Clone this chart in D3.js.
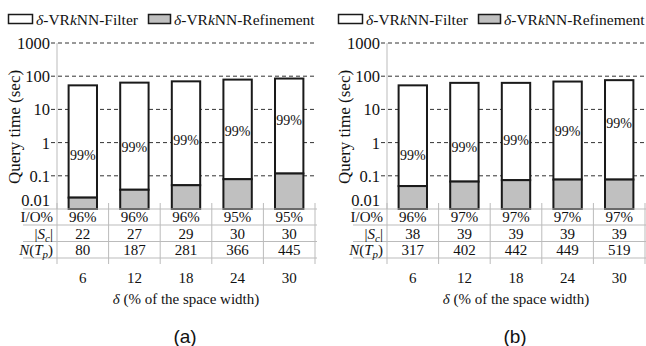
<!DOCTYPE html>
<html>
<head>
<meta charset="utf-8">
<script src="https://cdn.jsdelivr.net/npm/d3@7"></script>
<style>
  body { margin: 0; background: #fff; }
  svg { display: block; }
  text { font-family: "Liberation Serif", "DejaVu Serif", serif; fill: #111; }
</style>
</head>
<body>
<div id="chart"></div>
<script>
// query time breakdown, two datasets
const deltas = ["6", "12", "18", "24", "30"];
const yTicks = [0.01, 0.1, 1, 10, 100, 1000];

// panel (a)
const totalA = [53, 64, 70, 79, 85];
const refineA = [0.022, 0.038, 0.052, 0.079, 0.117];
const pctA = ["99%", "99%", "99%", "99%", "99%"];
const pctAtA = [0.43, 0.72, 1.23, 2.3, 4.9];
const ioA = ["96%", "96%", "96%", "95%", "95%"];
const scA = ["22", "27", "29", "30", "30"];
const ntpA = ["80", "187", "281", "366", "445"];

// panel (b)
const totalB = [53, 63, 63, 69, 76];
const refineB = [0.049, 0.067, 0.074, 0.077, 0.077];
const pctB = ["99%", "99%", "99%", "99%", "99%"];
const pctAtB = [0.43, 0.72, 1.23, 2.3, 3.9];
const ioB = ["96%", "97%", "97%", "97%", "97%"];
const scB = ["38", "39", "39", "39", "39"];
const ntpB = ["317", "402", "442", "449", "519"];

const width = 646, height = 346;
const svg = d3.select("#chart").append("svg")
    .attr("width", width).attr("height", height);

const gray = "#c0c0c0";
const dark = "#1a1a1a";

function drawPanel(offsetX, tag, total, refine, pct, pctAt, io, sc, ntp) {
    let g = svg.append("g").attr("transform", "translate(" + offsetX + ",0)");

    let x = d3.scaleBand().domain(deltas).range([57, 315])
        .paddingInner(0.45).paddingOuter(0.225);
    let y = d3.scaleLog().domain([0.01, 1000]).range([209, 43]);

    // legend
    let leg = g.append("g");
    leg.append("rect").attr("x", 8.5).attr("y", 14.5).attr("width", 24).attr("height", 9)
        .attr("fill", "#fff").attr("stroke", dark).attr("stroke-width", 1.5);
    let t1 = leg.append("text").attr("x", 36).attr("y", 24.5).style("font-size", "15.5px");
    t1.append("tspan").style("font-style", "italic").text("δ");
    t1.append("tspan").text("-VR");
    t1.append("tspan").style("font-style", "italic").text("k");
    t1.append("tspan").text("NN-Filter");
    leg.append("rect").attr("x", 148.5).attr("y", 14.5).attr("width", 22).attr("height", 9)
        .attr("fill", gray).attr("stroke", dark).attr("stroke-width", 1.5);
    let t2 = leg.append("text").attr("x", 174).attr("y", 24.5).style("font-size", "15.5px");
    t2.append("tspan").style("font-style", "italic").text("δ");
    t2.append("tspan").text("-VR");
    t2.append("tspan").style("font-style", "italic").text("k");
    t2.append("tspan").text("NN-Refinement");

    // grid lines
    g.append("g").selectAll("line")
        .data(yTicks.filter(d => d > 0.01))
        .join("line")
        .attr("x1", 51).attr("x2", 317)
        .attr("y1", d => y(d)).attr("y2", d => y(d))
        .attr("stroke", "#333").attr("stroke-width", 1)
        .attr("stroke-dasharray", "4,3");

    // axis line
    g.append("line").attr("x1", 57).attr("x2", 57).attr("y1", 43).attr("y2", 209)
        .attr("stroke", "#bbb").attr("stroke-width", 1);

    // y tick labels
    g.append("g").selectAll("text")
        .data(yTicks)
        .join("text")
        .attr("x", 50)
        .attr("y", d => d === 0.01 ? y(d) - 3 : y(d) + 6)
        .attr("text-anchor", "end")
        .style("font-size", "16.5px")
        .text(d => d3.format("~g")(d));

    // y title
    g.append("text")
        .attr("transform", "translate(20,127) rotate(-90)")
        .attr("text-anchor", "middle")
        .style("font-size", "17px")
        .text("Query time (sec)");

    // bars
    let bars = g.append("g").selectAll("g")
        .data(deltas)
        .join("g");
    bars.append("rect")
        .attr("x", d => x(d))
        .attr("width", x.bandwidth())
        .attr("y", (d, i) => y(total[i]))
        .attr("height", (d, i) => y(refine[i]) - y(total[i]))
        .attr("fill", "#fff").attr("stroke", dark).attr("stroke-width", 2);
    bars.append("rect")
        .attr("x", d => x(d))
        .attr("width", x.bandwidth())
        .attr("y", (d, i) => y(refine[i]))
        .attr("height", (d, i) => y(0.01) - y(refine[i]))
        .attr("fill", gray).attr("stroke", dark).attr("stroke-width", 2);
    bars.append("text")
        .attr("x", d => x(d) + x.bandwidth() / 2)
        .attr("y", (d, i) => y(pctAt[i]) + 5)
        .attr("text-anchor", "middle")
        .style("font-size", "14px")
        .text((d, i) => pct[i]);

    // table
    const rowLines = [209, 225, 241.5, 258];
    g.append("g").selectAll("line")
        .data(rowLines)
        .join("line")
        .attr("x1", 23).attr("x2", 317)
        .attr("y1", d => d).attr("y2", d => d)
        .attr("stroke", "#bbb").attr("stroke-width", 1);
    const bounds = deltas.map(d => x(d) - x.step() * x.paddingInner() / 2);
    bounds.push(x.range()[1]);
    bounds[0] = x.range()[0];
    g.append("g").selectAll("line")
        .data(bounds)
        .join("line")
        .attr("x1", d => d).attr("x2", d => d)
        .attr("y1", 203).attr("y2", 264)
        .attr("stroke", "#bbb").attr("stroke-width", 1);

    const rows = [io, sc, ntp];
    const rowY = [222, 238.5, 255];
    rows.forEach(function (vals, r) {
        g.append("g").selectAll("text")
            .data(deltas)
            .join("text")
            .attr("x", d => x(d) + x.bandwidth() / 2)
            .attr("y", rowY[r])
            .attr("text-anchor", "middle")
            .style("font-size", "15px")
            .text((d, i) => vals[i]);
    });

    // row labels
    g.append("text").attr("x", 53).attr("y", rowY[0]).attr("text-anchor", "end")
        .style("font-size", "15px").text("I/O%");
    let sLab = g.append("text").attr("x", 53).attr("y", rowY[1]).attr("text-anchor", "end")
        .style("font-size", "15px");
    sLab.append("tspan").text("|");
    sLab.append("tspan").style("font-style", "italic").text("S");
    sLab.append("tspan").style("font-style", "italic").style("font-size", "11px").attr("dy", 3).text("c");
    sLab.append("tspan").attr("dy", -3).text("|");
    let nLab = g.append("text").attr("x", 53).attr("y", rowY[2]).attr("text-anchor", "end")
        .style("font-size", "15px");
    nLab.append("tspan").style("font-style", "italic").text("N");
    nLab.append("tspan").text("(");
    nLab.append("tspan").style("font-style", "italic").text("T");
    nLab.append("tspan").style("font-style", "italic").style("font-size", "11px").attr("dy", 3).text("p");
    nLab.append("tspan").attr("dy", -3).text(")");

    // x tick labels
    g.append("g").selectAll("text")
        .data(deltas)
        .join("text")
        .attr("x", d => x(d) + x.bandwidth() / 2)
        .attr("y", 283)
        .attr("text-anchor", "middle")
        .style("font-size", "15px")
        .text(d => d);

    // x title
    let xt = g.append("text").attr("x", 186).attr("y", 304)
        .attr("text-anchor", "middle").style("font-size", "15px");
    xt.append("tspan").style("font-style", "italic").text("δ");
    xt.append("tspan").text(" (% of the space width)");

    // panel tag
    g.append("text").attr("x", 185).attr("y", 343)
        .attr("text-anchor", "middle")
        .style("font-family", "'Liberation Sans', Arial, sans-serif")
        .style("font-size", "19px")
        .text(tag);
}

drawPanel(0, "(a)", totalA, refineA, pctA, pctAtA, ioA, scA, ntpA);
drawPanel(330, "(b)", totalB, refineB, pctB, pctAtB, ioB, scB, ntpB);
</script>
</body>
</html>
